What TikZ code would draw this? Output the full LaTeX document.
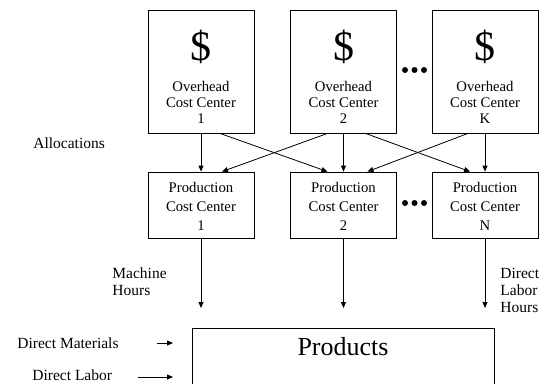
\documentclass[tikz,border=0pt]{standalone}
\usepackage{fontspec}
\setmainfont{Liberation Serif}
\usetikzlibrary{arrows.meta,positioning}

\begin{document}
\begin{tikzpicture}[x=1pt, y=-1pt, >={Triangle[length=6pt,width=5pt]}, line width=0.8pt,
    ohbox/.style={draw, minimum width=106pt, minimum height=123pt, inner sep=0pt},
    pcbox/.style={draw, minimum width=106pt, minimum height=66pt, inner sep=0pt},
    boxtext/.style={align=center, inner sep=0pt, font=\fontsize{14.7}{16}\selectfont},
    pctext/.style={align=center, inner sep=0pt, font=\fontsize{14.7}{19}\selectfont},
    dollar/.style={inner sep=0pt, font=\fontsize{42}{42}\selectfont},
    lbl/.style={align=left, anchor=west, inner sep=0pt, font=\fontsize{15.5}{17}\selectfont}]
\useasboundingbox (0,0) rectangle (545,383);
% overhead cost centers
\node[ohbox] (oh1) at (201,71.5) {};
\node[ohbox] (oh2) at (343.5,71.5) {};
\node[ohbox] (oh3) at (485,71.5) {};
\node[dollar] (d1) at (201,47) {\$};
\node[dollar] (d2) at (343.5,47) {\$};
\node[dollar] (d3) at (485,47) {\$};
\node[boxtext] (ot1) at (201,102) {Overhead\\Cost Center\\1};
\node[boxtext] (ot2) at (343.5,102) {Overhead\\Cost Center\\2};
\node[boxtext] (ot3) at (485,102) {Overhead\\Cost Center\\K};
% production cost centers
\node[pcbox] (pc1) at (201,205) {};
\node[pcbox] (pc2) at (343.5,205) {};
\node[pcbox] (pc3) at (485,205) {};
\node[pctext] (pt1) at (201,206) {Production\\Cost Center\\1};
\node[pctext] (pt2) at (343.5,206) {Production\\Cost Center\\2};
\node[pctext] (pt3) at (485,206) {Production\\Cost Center\\N};
% dots
\foreach \y in {70,203} {
  \foreach \x in {405,414.5,424} \fill (\x,\y) circle (3pt);
}
% allocations
\draw[->] (oh1) -- (pc1);
\draw[->] (oh2) -- (pc2);
\draw[->] (oh3) -- (pc3);
\draw[->] ([xshift=19pt]oh1.south) -- ([xshift=-16pt]pc2.north);
\draw[->] ([xshift=-16pt]oh2.south) -- ([xshift=21pt]pc1.north);
\draw[->] ([xshift=22pt]oh2.south) -- ([xshift=-15pt]pc3.north);
\draw[->] ([xshift=-17pt]oh3.south) -- ([xshift=24pt]pc2.north);
\node[lbl] (alloc) at (33,143) {Allocations};
% products
\node[draw, minimum width=302pt, minimum height=100pt, anchor=north] (prod) at (343,328) {};
\node[inner sep=0pt, font=\fontsize{26}{26}\selectfont] (prodtxt) at (343,347) {Products};
\coordinate (e1) at (201,308);
\coordinate (e2) at (343.5,308);
\coordinate (e3) at (485,308);
\draw[->] (pc1) -- (e1);
\draw[->] (pc2) -- (e2);
\draw[->] (pc3) -- (e3);
\node[lbl] (mh) at (112,282) {Machine\\Hours};
\node[lbl] (dlh) at (500,290) {Direct\\Labor\\Hours};
\node[lbl] (dm) at (17,343) {Direct Materials};
\node[lbl] (dl) at (32,375) {Direct Labor};
\coordinate (dms) at (157,343);
\coordinate (dme) at (173,343);
\coordinate (dls) at (138,377);
\coordinate (dle) at (173,377);
\draw[->] (dms) -- (dme);
\draw[->] (dls) -- (dle);
\end{tikzpicture}
\end{document}
